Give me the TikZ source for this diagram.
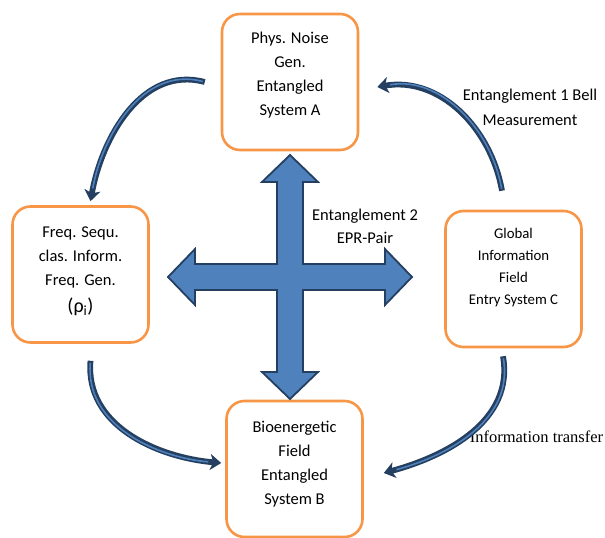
\documentclass[tikz,border=0pt]{standalone}
\usepackage{fontspec}
\setmainfont{Carlito}
\newfontfamily\timesfont{Liberation Serif}
\usetikzlibrary{arrows.meta,shapes}
\definecolor{boxorange}{HTML}{F79646}
\definecolor{crossblue}{HTML}{4F81BD}
\definecolor{darknavy}{HTML}{243F60}

\begin{document}
\begin{tikzpicture}[x=1pt,y=1pt,node distance=195pt,>={Stealth[length=11pt,width=16pt,inset=3pt]}]

  \tikzstyle{system}=[rectangle,rounded corners=18pt,draw=boxorange,line width=2.6pt,
  		      minimum width=136pt,minimum height=136pt]
  \tikzstyle{system text}=[align=center,font=\fontsize{16.5}{24}\selectfont]
  \tikzstyle{small text}=[system text,font=\fontsize{14.8}{22}\selectfont]
  \tikzstyle{flow}=[draw=darknavy,line width=5.8pt,->,
  		    postaction={draw=crossblue,line width=1.6pt,shorten >=13pt,shorten <=2pt,-}]

  \useasboundingbox (0,0) rectangle (605,538);

  \coordinate (ctr) at (290,261);

  \node [system] (phys) [above of=ctr] {};
  \node [system] (freq) [node distance=209.5pt,left of=ctr,yshift=2.5pt] {};
  \node [system] (glob) [node distance=223.5pt,right of=ctr,yshift=-2pt] {};
  \node [system] (bio)  [node distance=192pt,below of=ctr,xshift=4.5pt] {};

  \node [system text] (phystxt) at ([yshift=6.5pt]phys.center) {Phys. Noise\\Gen.\\Entangled\\System A};
  \node [system text] (freqtxt) at ([yshift=3pt]freq.center)
    {Freq. Sequ.\\clas. Inform.\\Freq. Gen.\\[3pt]{\fontsize{20}{24}\selectfont(ρ\textsubscript{i})}};
  \node [small text] (globtxt) at ([yshift=11.5pt]glob.center) {Global\\Information\\Field\\Entry System C};
  \node [system text] (biotxt) at ([yshift=5pt]bio.center) {Bioenergetic\\Field\\Entangled\\System B};

  % the four way arrow
  \filldraw [fill=crossblue,draw=darknavy,line width=1.8pt,shift={(ctr)}]
    (0,122) -- (28,95) -- (13,95) -- (13,13) -- (95,13) -- (95,28) -- (122,0)
    -- (95,-28) -- (95,-13) -- (13,-13) -- (13,-95) -- (28,-95) -- (0,-122)
    -- (-28,-95) -- (-13,-95) -- (-13,-13) -- (-95,-13) -- (-95,-28) -- (-122,0)
    -- (-95,28) -- (-95,13) -- (-13,13) -- (-13,95) -- (-28,95) -- cycle;

  \node [system text,font=\fontsize{16.5}{23}\selectfont] (epr) at (365,311.5) {Entanglement 2\\EPR-Pair};
  \node [system text,font=\fontsize{16.5}{25}\selectfont] (bell) at (530,430.5) {Entanglement 1 Bell\\Measurement};
  \node [font=\timesfont\fontsize{16.5}{20}\selectfont] (transfer) at (536.5,101) {Information transfer};

  % curved arrows round the boxes
  \draw [flow] ([xshift=-16pt]phys.west) to[out=165,in=80] ([xshift=10pt,yshift=4pt]freq.north);
  \draw [flow] ([xshift=10pt,yshift=-17pt]freq.south) to[out=265,in=175] ([xshift=-4pt,yshift=6pt]bio.west);
  \draw [flow] ([xshift=-10.5pt,yshift=-8pt]glob.south) to[out=-80,in=15] ([xshift=20pt,yshift=-4pt]bio.east);
  \draw [flow] ([xshift=-11.5pt,yshift=19pt]glob.north) to[out=100,in=10] ([xshift=18pt,yshift=-5pt]phys.east);

\end{tikzpicture}
\end{document}
